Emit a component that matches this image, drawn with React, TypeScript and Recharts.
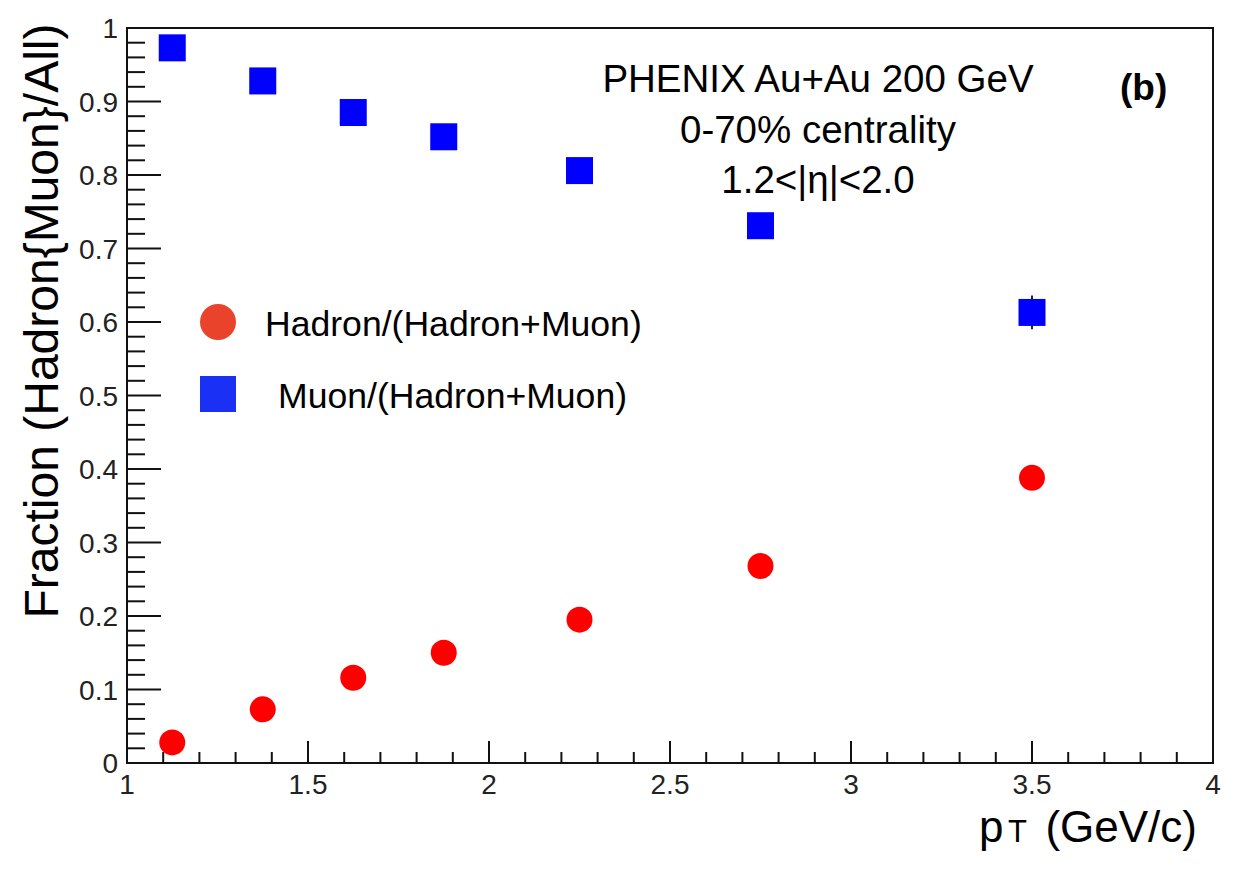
import React from "react";
import {
  ErrorBar,
  Legend,
  ReferenceArea,
  Scatter,
  ScatterChart,
  XAxis,
  YAxis,
} from "recharts";

// pT bin centres (GeV/c) and the two fractions
const pT = [1.125, 1.375, 1.625, 1.875, 2.25, 2.75, 3.5];
const hadronFrac = [0.028, 0.073, 0.116, 0.15, 0.195, 0.268, 0.388];
const muonFrac = [0.973, 0.928, 0.885, 0.852, 0.806, 0.731, 0.613];
const muonErr = [0, 0, 0, 0, 0, 0, 0.023];

const xMajor = [1, 1.5, 2, 2.5, 3, 3.5, 4];
const xLabels = ["1", "1.5", "2", "2.5", "3", "3.5", "4"];
const yMajor = [0, 0.1, 0.2, 0.3, 0.4, 0.5, 0.6, 0.7, 0.8, 0.9, 1];
const yLabels = ["0", "0.1", "0.2", "0.3", "0.4", "0.5", "0.6", "0.7", "0.8", "0.9", "1"];

const FONT = '"Liberation Sans", Arial, Helvetica, sans-serif';
const RED = "#ff0000";
const BLUE = "#0000ff";

// ROOT-style minor ticks: 0.1 on x, 0.02 on y
const xTicks: number[] = [];
for (let i = 0; i <= 30; i++) xTicks.push(Math.round((1 + i * 0.1) * 100) / 100);
const yTicks: number[] = [];
for (let i = 0; i <= 50; i++) yTicks.push(Math.round(i * 0.02 * 100) / 100);

const hadronData = pT.map((x, i) => ({ x, y: hadronFrac[i] }));
const muonData = pT.map((x, i) => ({ x, y: muonFrac[i], err: muonErr[i] }));

const majorIndex = (list: number[], v: number) =>
  list.findIndex((m) => Math.abs(m - v) < 1e-6);

function XTick({ x, y, payload }: any) {
  const idx = majorIndex(xMajor, payload.value);
  const len = idx >= 0 ? 22 : 11;
  return (
    <g>
      <line x1={x} x2={x} y1={y} y2={y - len} stroke="#111" strokeWidth={2} />
      {idx >= 0 && (
        <text x={x} y={y + 31} textAnchor="middle" fontSize={28} fill="#222" fontFamily={FONT}>
          {xLabels[idx]}
        </text>
      )}
    </g>
  );
}

function YTick({ x, y, payload }: any) {
  const idx = majorIndex(yMajor, payload.value);
  const len = idx >= 0 ? 34 : 18;
  return (
    <g>
      <line x1={x} x2={x + len} y1={y} y2={y} stroke="#111" strokeWidth={2} />
      {idx >= 0 && (
        <text x={x - 9} y={y + 10} textAnchor="end" fontSize={28} fill="#222" fontFamily={FONT}>
          {yLabels[idx]}
        </text>
      )}
    </g>
  );
}

const RedDot = (p: any) => <circle cx={p.cx} cy={p.cy} r={13} fill={RED} />;
const BlueSquare = (p: any) => (
  <rect x={p.cx - 13.5} y={p.cy - 13.5} width={27} height={27} fill={BLUE} />
);
const Nothing = () => <g />;

function LegendBox() {
  return (
    <svg width={480} height={140} style={{ fontFamily: FONT }}>
      <circle cx={30} cy={24} r={18} fill="#e9432b" />
      <text x={77} y={38} fontSize={35.6} fill="#000">
        Hadron/(Hadron+Muon)
      </text>
      <rect x={12} y={78} width={36} height={36} fill="#1a31f5" />
      <text x={90} y={110} fontSize={35.6} fill="#000">
        Muon/(Hadron+Muon)
      </text>
    </svg>
  );
}

export default function App() {
  return (
    <div style={{ position: "relative", width: 1230, height: 870, fontFamily: FONT }}>
      <ScatterChart width={1230} height={870} margin={{ top: 20, right: 25, bottom: 55, left: 19 }}>
        <XAxis
          type="number"
          dataKey="x"
          domain={[1, 4]}
          ticks={xTicks}
          interval={0}
          tickSize={0}
          tickMargin={0}
          axisLine={false}
          tickLine={false}
          tick={<XTick />}
          height={60}
          allowDataOverflow
        />
        <YAxis
          type="number"
          dataKey="y"
          domain={[0, 1]}
          ticks={yTicks}
          interval={0}
          tickSize={0}
          tickMargin={0}
          axisLine={false}
          tickLine={false}
          tick={<YTick />}
          width={100}
          allowDataOverflow
        />
        <ReferenceArea
          x1={1}
          x2={4}
          y1={0}
          y2={1}
          fill="none"
          stroke="#111"
          strokeWidth={2}
          ifOverflow="visible"
        />
        <Scatter data={muonData} shape={<Nothing />} isAnimationActive={false}>
          <ErrorBar dataKey="err" direction="y" width={0} stroke="#222" strokeWidth={2} />
        </Scatter>
        <Scatter data={muonData} shape={<BlueSquare />} isAnimationActive={false} />
        <Scatter data={hadronData} shape={<RedDot />} isAnimationActive={false} />
        <Legend
          layout="horizontal"
          verticalAlign="middle"
          align="center"
          wrapperStyle={{ left: 180, top: 290, width: 480, height: 140 }}
          content={() => <LegendBox />}
        />
      </ScatterChart>
      <svg
        width={1230}
        height={870}
        style={{ position: "absolute", left: 0, top: 0, pointerEvents: "none", fontFamily: FONT }}
      >
        <text x={810} y={84} textAnchor="middle" fontSize={38.5}>
          PHENIX Au+Au 200 GeV
        </text>
        <text x={810} y={135} textAnchor="middle" fontSize={38.5}>
          0-70% centrality
        </text>
        <text x={810} y={185} textAnchor="middle" fontSize={38.5}>
          1.2&lt;|η|&lt;2.0
        </text>
        <text x={1112} y={92} fontSize={37} fontWeight="bold">
          (b)
        </text>
        <text transform="translate(50,313) rotate(-90)" textAnchor="middle" fontSize={48}>
          Fraction (Hadron{"{"}Muon{"}"}/All)
        </text>
        <text x={971} y={834} fontSize={44}>
          p
        </text>
        <text x={1000} y={834} fontSize={31}>
          T
        </text>
        <text x={1189} y={834} textAnchor="end" fontSize={44}>
          (GeV/c)
        </text>
      </svg>
    </div>
  );
}
